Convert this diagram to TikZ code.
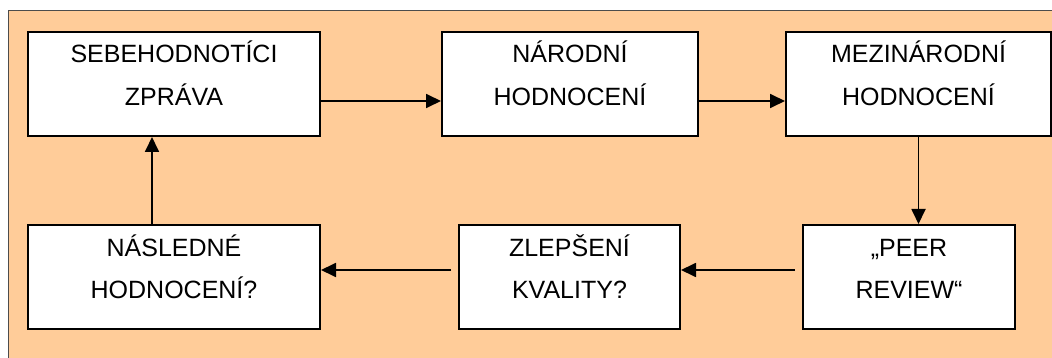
\documentclass[tikz,border=0pt]{standalone}
\usepackage{fontspec}
\setmainfont{Liberation Sans}
\usetikzlibrary{arrows.meta}
\definecolor{peach}{HTML}{FFCC99}
\newcommand\boxtxt[3]{\parbox[c][104pt][t]{#1}{\centering\fontsize{25pt}{43pt}\selectfont\rule{0pt}{31pt}#2\\#3}}
\tikzset{
  stepbox/.style={draw=black, line width=2pt, fill=white, inner sep=0pt, rectangle},
  arr/.style={line width=1.8pt, -{Triangle[length=15pt,width=14pt]}},
}
\begin{document}
\begin{tikzpicture}[x=1pt,y=-1pt]
\useasboundingbox (0,0) rectangle (1052,358);
\draw[fill=peach, draw=black!70, line width=1pt] (8,11) rectangle (1070,380);
\node[stepbox] (b1) at (174,84) {\boxtxt{292pt}{SEBEHODNOT\'{I}CI}{ZPR\'{A}VA}};
\node[stepbox] (b2) at (570,84) {\boxtxt{256pt}{N\'{A}RODN\'{I}}{HODNOCEN\'{I}}};
\node[stepbox] (b3) at (918.5,84) {\boxtxt{265pt}{MEZIN\'{A}RODN\'{I}}{HODNOCEN\'{I}}};
\node[stepbox] (b4) at (174,277) {\boxtxt{292pt}{N\'{A}SLEDN\'{E}}{HODNOCEN\'{I}?}};
\node[stepbox] (b5) at (569.5,277) {\boxtxt{221pt}{ZLEP\v{S}EN\'{I}}{KVALITY?}};
\node[stepbox] (b6) at (909,277) {\boxtxt{212pt}{„PEER}{REVIEW“}};
\draw[arr] ([yshift=-17pt]b1.east) -- ([yshift=-17pt]b2.west);
\draw[arr] ([yshift=-17pt]b2.east) -- ([yshift=-17pt]b3.west);
\draw[arr] (b3.south) -- (b3.south |- b6.north);
\draw[arr, shorten <=7pt] ([yshift=7pt]b6.west) -- ([yshift=7pt]b5.east);
\draw[arr, shorten <=7pt] ([yshift=7pt]b5.west) -- ([yshift=7pt]b4.east);
\draw[arr] ([xshift=-22pt]b4.north) -- ([xshift=-22pt]b1.south);
\end{tikzpicture}
\end{document}
